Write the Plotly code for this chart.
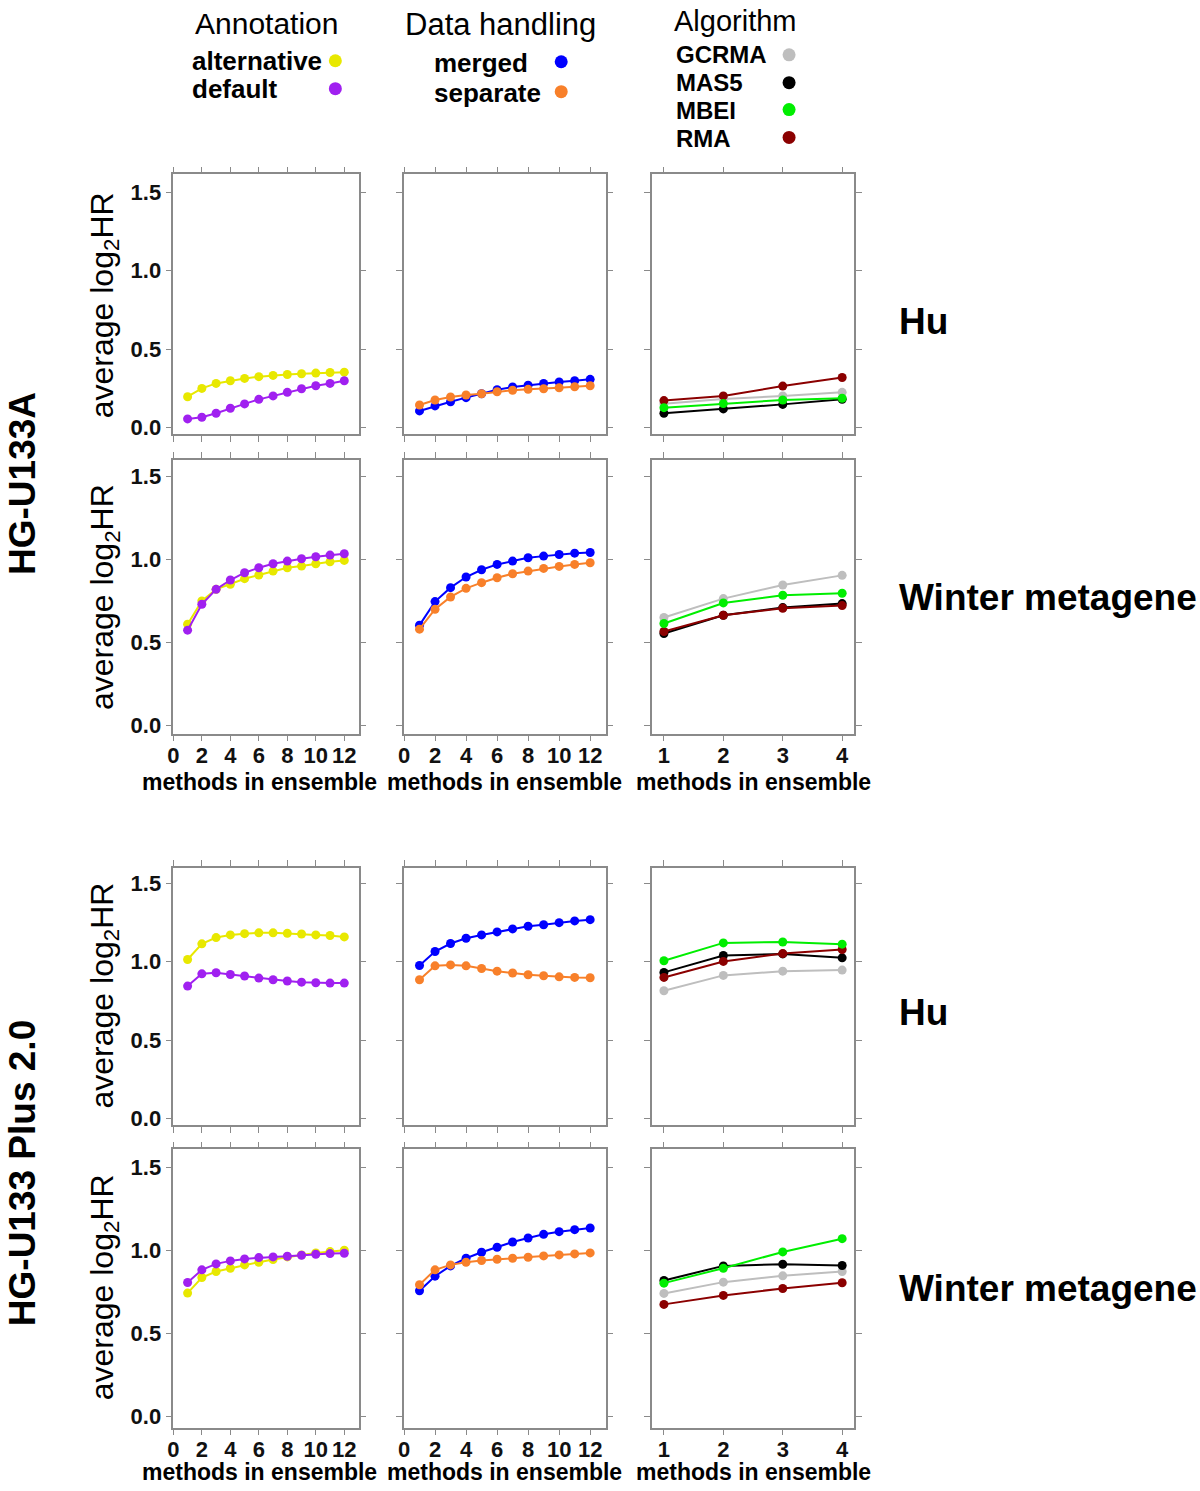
import plotly.graph_objects as go

W, H = 1200, 1491

# ---------------- data ----------------
methods12 = list(range(1, 13))
methods4 = [1, 2, 3, 4]
x12_ticks = [0, 2, 4, 6, 8, 10, 12]
x4_ticks = [1, 2, 3, 4]
y_ticks = [0.0, 0.5, 1.0, 1.5]
y_ticklabels = ["0.0", "0.5", "1.0", "1.5"]

# HG-U133A, Hu
a_hu_alternative = [0.195, 0.248, 0.280, 0.297, 0.312, 0.323, 0.331, 0.337, 0.342, 0.346, 0.350, 0.352]
a_hu_default = [0.053, 0.064, 0.089, 0.121, 0.149, 0.178, 0.200, 0.223, 0.246, 0.265, 0.280, 0.297]
a_hu_merged = [0.104, 0.136, 0.163, 0.189, 0.214, 0.240, 0.257, 0.269, 0.280, 0.289, 0.297, 0.306]
a_hu_separate = [0.142, 0.174, 0.193, 0.206, 0.214, 0.227, 0.236, 0.242, 0.246, 0.252, 0.259, 0.265]
a_hu_gcrma = [0.150, 0.180, 0.200, 0.223]
a_hu_mas5 = [0.089, 0.117, 0.146, 0.178]
a_hu_mbei = [0.125, 0.151, 0.174, 0.185]
a_hu_rma = [0.170, 0.200, 0.263, 0.318]

# HG-U133A, Winter metagene
a_wi_alternative = [0.610, 0.750, 0.820, 0.850, 0.884, 0.906, 0.930, 0.950, 0.960, 0.974, 0.986, 0.994]
a_wi_default = [0.574, 0.730, 0.820, 0.876, 0.920, 0.950, 0.974, 0.990, 1.004, 1.016, 1.026, 1.034]
a_wi_merged = [0.604, 0.746, 0.830, 0.894, 0.938, 0.970, 0.990, 1.010, 1.020, 1.030, 1.038, 1.042]
a_wi_separate = [0.580, 0.700, 0.774, 0.826, 0.860, 0.890, 0.914, 0.930, 0.946, 0.958, 0.970, 0.980]
a_wi_gcrma = [0.650, 0.764, 0.846, 0.904]
a_wi_mas5 = [0.554, 0.664, 0.710, 0.734]
a_wi_mbei = [0.614, 0.738, 0.784, 0.796]
a_wi_rma = [0.566, 0.664, 0.706, 0.722]

# HG-U133 Plus 2.0, Hu
p_hu_alternative = [1.013, 1.113, 1.153, 1.170, 1.178, 1.183, 1.183, 1.180, 1.176, 1.170, 1.166, 1.157]
p_hu_default = [0.844, 0.922, 0.929, 0.918, 0.908, 0.895, 0.884, 0.876, 0.869, 0.865, 0.863, 0.863]
p_hu_merged = [0.975, 1.064, 1.115, 1.149, 1.170, 1.189, 1.208, 1.225, 1.235, 1.248, 1.259, 1.267]
p_hu_separate = [0.884, 0.973, 0.979, 0.973, 0.956, 0.939, 0.927, 0.916, 0.910, 0.903, 0.899, 0.897]
p_hu_gcrma = [0.814, 0.912, 0.939, 0.946]
p_hu_mas5 = [0.931, 1.039, 1.049, 1.024]
p_hu_mbei = [1.005, 1.119, 1.125, 1.111]
p_hu_rma = [0.899, 1.001, 1.051, 1.077]

# HG-U133 Plus 2.0, Winter metagene
p_wi_alternative = [0.744, 0.838, 0.874, 0.894, 0.914, 0.930, 0.946, 0.962, 0.974, 0.986, 0.994, 1.002]
p_wi_default = [0.808, 0.884, 0.920, 0.938, 0.950, 0.958, 0.962, 0.966, 0.972, 0.978, 0.982, 0.984]
p_wi_merged = [0.758, 0.846, 0.908, 0.954, 0.990, 1.020, 1.052, 1.076, 1.098, 1.114, 1.126, 1.136]
p_wi_separate = [0.794, 0.884, 0.914, 0.930, 0.940, 0.948, 0.954, 0.960, 0.968, 0.974, 0.980, 0.986]
p_wi_gcrma = [0.742, 0.810, 0.848, 0.874]
p_wi_mas5 = [0.820, 0.908, 0.918, 0.910]
p_wi_mbei = [0.804, 0.894, 0.992, 1.072]
p_wi_rma = [0.676, 0.730, 0.772, 0.806]

annotation_names = ["alternative", "default"]
handling_names = ["merged", "separate"]
algorithm_names = ["GCRMA", "MAS5", "MBEI", "RMA"]
row_titles = ["Hu", "Winter metagene", "Hu", "Winter metagene"]
platform_titles = ["HG-U133A", "HG-U133 Plus 2.0"]

# ---------------- styles ----------------
COL = {
    "alternative": "#e8e800", "default": "#a020f0",
    "merged": "#0000ff", "separate": "#f8802a",
    "GCRMA": "#bebebe", "MAS5": "#000000", "MBEI": "#00ee00", "RMA": "#8b0000",
}
FONT = "Liberation Sans, Arial, sans-serif"

rows_data = [
    ({"alternative": a_hu_alternative, "default": a_hu_default},
     {"merged": a_hu_merged, "separate": a_hu_separate},
     {"GCRMA": a_hu_gcrma, "MAS5": a_hu_mas5, "MBEI": a_hu_mbei, "RMA": a_hu_rma}),
    ({"alternative": a_wi_alternative, "default": a_wi_default},
     {"merged": a_wi_merged, "separate": a_wi_separate},
     {"GCRMA": a_wi_gcrma, "MAS5": a_wi_mas5, "MBEI": a_wi_mbei, "RMA": a_wi_rma}),
    ({"alternative": p_hu_alternative, "default": p_hu_default},
     {"merged": p_hu_merged, "separate": p_hu_separate},
     {"GCRMA": p_hu_gcrma, "MAS5": p_hu_mas5, "MBEI": p_hu_mbei, "RMA": p_hu_rma}),
    ({"alternative": p_wi_alternative, "default": p_wi_default},
     {"merged": p_wi_merged, "separate": p_wi_separate},
     {"GCRMA": p_wi_gcrma, "MAS5": p_wi_mas5, "MBEI": p_wi_mbei, "RMA": p_wi_rma}),
]

# panel geometry in pixels
col_px = [(168.2, 354.3), (400.0, 602.7), (649.3, 852.3)]
row_px = [(175.0, 436.0), (461.7, 736.7), (871.7, 1130.0), (1154.0, 1433.3)]
row_yrange = [(-0.045, 1.617), (-0.05, 1.60), (-0.044, 1.595), (-0.066, 1.61)]

def px(x):
    return x / W

def py(y):
    return 1 - y / H

fig = go.Figure()
layout = {}

draw_order = [
    ["alternative", "default"],
    ["merged", "separate"],
    ["GCRMA", "MAS5", "RMA", "MBEI"],
]

for r in range(4):
    for c in range(3):
        k = r * 3 + c + 1
        xa = "x" if k == 1 else f"x{k}"
        ya = "y" if k == 1 else f"y{k}"
        series = rows_data[r][c]
        xs = methods4 if c == 2 else methods12
        for name in draw_order[c]:
            fig.add_trace(go.Scatter(
                x=xs, y=series[name], mode="lines+markers",
                line=dict(color=COL[name], width=2),
                marker=dict(color=COL[name], size=9),
                xaxis=xa, yaxis=ya, showlegend=False, name=name,
            ))
        common = dict(
            showline=True, linecolor="#8a8a8a", linewidth=1.5, mirror="ticks",
            ticks="outside", ticklen=6, tickcolor="#8a8a8a", tickwidth=1.2,
            showgrid=False, zeroline=False,
            tickfont=dict(family=FONT, size=22, color="#111111", weight="bold"),
        )
        xd = dict(common)
        xd.update(
            domain=[px(col_px[c][0]), px(col_px[c][1])],
            anchor=ya,
            range=[0.8, 4.2] if c == 2 else [0, 13],
            tickvals=x4_ticks if c == 2 else x12_ticks,
            showticklabels=(r in (1, 3)),
            ticklabelstandoff=-5,
        )
        yd = dict(common)
        yd.update(
            domain=[py(row_px[r][1]), py(row_px[r][0])],
            anchor=xa,
            range=list(row_yrange[r]),
            tickvals=y_ticks, ticktext=y_ticklabels,
            showticklabels=(c == 0),
        )
        layout["xaxis" if k == 1 else f"xaxis{k}"] = xd
        layout["yaxis" if k == 1 else f"yaxis{k}"] = yd

# hidden overlay axes for legend dots (pixel space)
layout["xaxis13"] = dict(domain=[0, 1], range=[0, W], visible=False, anchor="y13", fixedrange=True)
layout["yaxis13"] = dict(domain=[0, 1], range=[H, 0], visible=False, anchor="x13", fixedrange=True)

legend_groups = [
    (annotation_names, 331, [61, 89]),
    (handling_names, 558, [62, 92]),
    (algorithm_names, 787, [55, 83, 110, 138]),
]
for names, dx, dys in legend_groups:
    fig.add_trace(go.Scatter(
        x=[dx] * len(names), y=dys, mode="markers",
        marker=dict(color=[COL[n] for n in names], size=13),
        xaxis="x13", yaxis="y13", showlegend=False, hoverinfo="skip",
    ))

annotations = []

def add_text(text, x, y, size, bold=False, xanchor="center", angle=0, color="#000000"):
    annotations.append(dict(
        text=text, x=px(x), y=py(y), xref="paper", yref="paper",
        xanchor=xanchor, yanchor="middle", showarrow=False, textangle=angle,
        font=dict(family=FONT, size=size, color=color, weight="bold" if bold else "normal"),
    ))

# legend headers & entries
add_text("Annotation", 262, 24, 30)
add_text("Data handling", 497, 25, 31)
add_text("Algorithm", 733, 21, 29)
for names, lx, ys, fs in [(annotation_names, 185, [61, 89], 26),
                          (handling_names, 428, [63, 93], 26),
                          (algorithm_names, 671, [55, 83, 111, 139], 24)]:
    for n, yy in zip(names, ys):
        add_text(n, lx, yy, fs, bold=True, xanchor="left")

# axis titles
for r, yc in zip(range(4), [307, 600, 1000, 1293]):
    add_text("average log<sub>2</sub>HR", 99, yc, 32, angle=-90)
for yb in [785, 1478]:
    for xc in [255, 501, 751]:
        add_text("methods in ensemble", xc, yb, 23, bold=True)

# row titles
for title, yc in zip(row_titles, [323, 600, 1017, 1294]):
    add_text(title, 895, yc, 37, bold=True, xanchor="left")

# platform titles
add_text(platform_titles[0], 16, 485, 37, bold=True, angle=-90)
add_text(platform_titles[1], 16, 1178, 37, bold=True, angle=-90)

fig.update_layout(
    width=W, height=H,
    margin=dict(l=0, r=0, t=0, b=0),
    paper_bgcolor="white", plot_bgcolor="rgba(0,0,0,0)",
    font=dict(family=FONT, color="#000000"),
    annotations=annotations,
    showlegend=False,
    **layout,
)

fig.write_html(
    "out.html",
    config={"displayModeBar": False},
    post_script="document.body.style.margin='0';document.body.style.overflow='hidden';",
)
